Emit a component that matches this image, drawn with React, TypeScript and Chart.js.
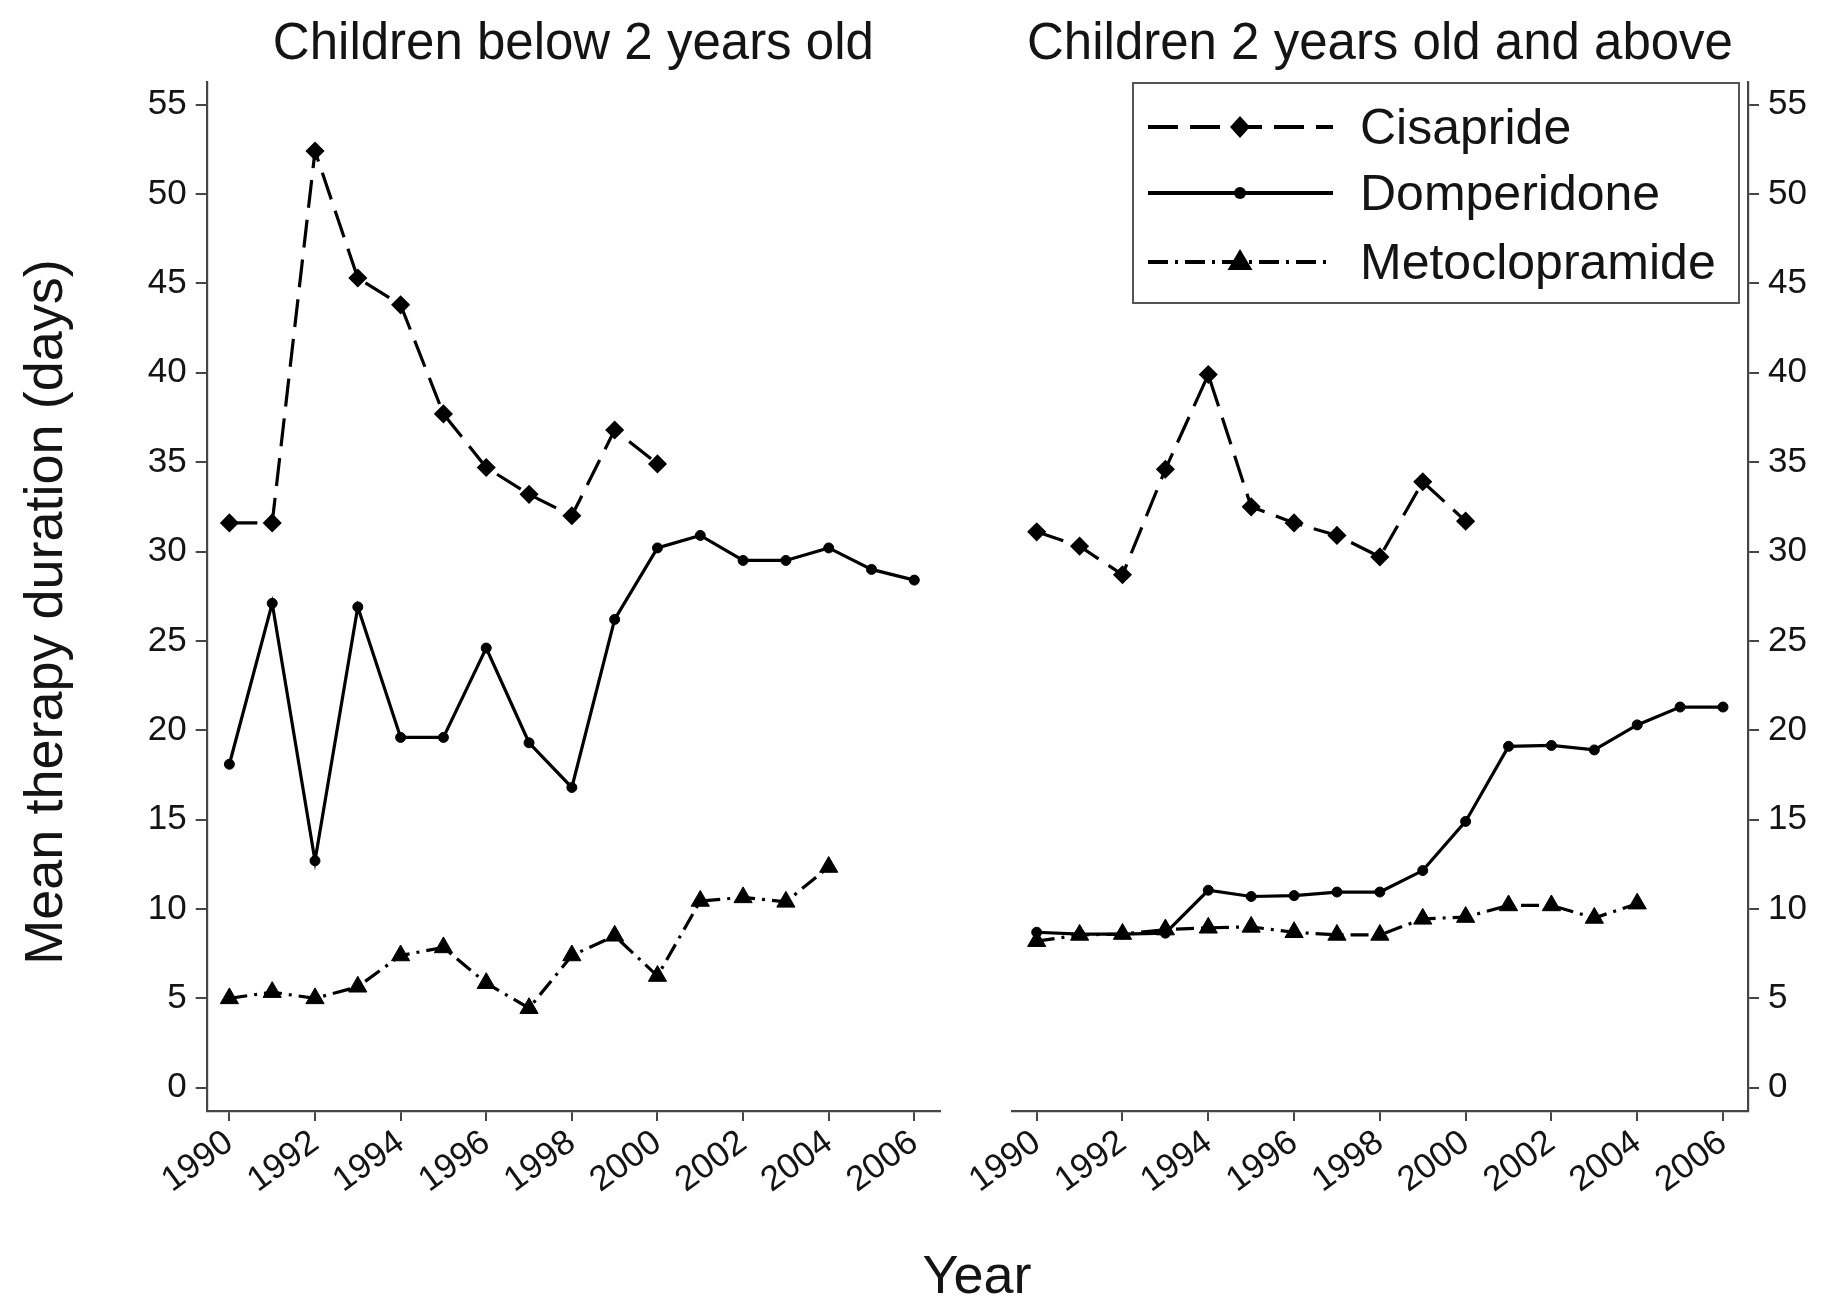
import React, { useEffect, useRef } from "react";
import { Chart, registerables } from "chart.js";

Chart.register(...registerables);

// ---------- data ----------
const cisaprideYears = [1990, 1991, 1992, 1993, 1994, 1995, 1996, 1997, 1998, 1999, 2000];
const domperidoneYears = [1990, 1991, 1992, 1993, 1994, 1995, 1996, 1997, 1998, 1999, 2000, 2001, 2002, 2003, 2004, 2005, 2006];
const metoclopramideYears = [1990, 1991, 1992, 1993, 1994, 1995, 1996, 1997, 1998, 1999, 2000, 2001, 2002, 2003, 2004];

// Children below 2 years old
const cisaprideBelow2 = [31.6, 31.6, 52.4, 45.3, 43.8, 37.7, 34.7, 33.2, 32.0, 36.8, 34.9];
const domperidoneBelow2 = [18.1, 27.1, 12.7, 26.9, 19.6, 19.6, 24.6, 19.3, 16.8, 26.2, 30.2, 30.9, 29.5, 29.5, 30.2, 29.0, 28.4];
const metoclopramideBelow2 = [5.0, 5.35, 5.0, 5.65, 7.4, 7.85, 5.85, 4.45, 7.4, 8.5, 6.25, 10.45, 10.65, 10.4, 12.35];

// Children 2 years old and above
const cisaprideAbove2 = [31.1, 30.3, 28.7, 34.6, 39.9, 32.5, 31.6, 30.9, 29.7, 33.9, 31.7];
const domperidoneAbove2 = [8.7, 8.6, 8.6, 8.65, 11.05, 10.7, 10.75, 10.95, 10.95, 12.15, 14.9, 19.1, 19.15, 18.9, 20.3, 21.3, 21.3];
const metoclopramideAbove2 = [8.2, 8.55, 8.6, 8.85, 8.95, 9.0, 8.7, 8.55, 8.55, 9.45, 9.55, 10.2, 10.2, 9.5, 10.3];

const xTickYears = [1990, 1992, 1994, 1996, 1998, 2000, 2002, 2004, 2006];
const yTickValues = [0, 5, 10, 15, 20, 25, 30, 35, 40, 45, 50, 55];
const panelTitles = ["Children below 2 years old", "Children 2 years old and above"];
const seriesNames = ["Cisapride", "Domperidone", "Metoclopramide"];
const xAxisTitle = "Year";
const yAxisTitle = "Mean therapy duration (days)";

// ---------- styles ----------
const FONT = '"Liberation Sans", Arial, Helvetica, sans-serif';
const TEXT = "#141414";
const AXIS = "#454545";
const LINE = "#000000";
const W = 1829;
const H = 1307;
const TICK_FONT = 35;

const toPoints = (xs: number[], ys: number[]) => ys.map((v, i) => ({ x: xs[i], y: v }));

function makeConfig(side: "left" | "right", title: string, cis: number[], dom: number[], met: number[]): any {
  const isLeft = side === "left";
  return {
    type: "line",
    data: {
      datasets: [
        {
          label: seriesNames[0],
          data: toPoints(cisaprideYears, cis),
          borderColor: LINE,
          backgroundColor: LINE,
          borderWidth: 3.2,
          borderDash: [28, 12],
          pointStyle: "rectRot",
          pointRadius: 8.5,
          pointBorderWidth: 1.5,
          pointBackgroundColor: LINE,
          pointBorderColor: LINE,
          tension: 0,
        },
        {
          label: seriesNames[1],
          data: toPoints(domperidoneYears, dom),
          borderColor: LINE,
          backgroundColor: LINE,
          borderWidth: 3.2,
          pointStyle: "circle",
          pointRadius: 5,
          pointBorderWidth: 1,
          pointBackgroundColor: LINE,
          pointBorderColor: LINE,
          tension: 0,
        },
        {
          label: seriesNames[2],
          data: toPoints(metoclopramideYears, met),
          borderColor: LINE,
          backgroundColor: LINE,
          borderWidth: 3.2,
          borderDash: [18, 7, 3, 7],
          pointStyle: "triangle",
          pointRadius: 10.5,
          pointBorderWidth: 1,
          pointBackgroundColor: LINE,
          pointBorderColor: LINE,
          tension: 0,
        },
      ],
    },
    options: {
      responsive: false,
      animation: false,
      devicePixelRatio: 1,
      events: [],
      layout: {
        padding: isLeft
          ? { left: 0, right: W - 940, top: 0, bottom: 0 }
          : { left: 1012, right: 0, top: 0, bottom: 0 },
      },
      plugins: {
        legend: { display: false },
        tooltip: { enabled: false },
        title: {
          display: true,
          text: title,
          fullSize: false,
          color: TEXT,
          font: { family: FONT, size: 51, weight: "normal", lineHeight: 1.2 },
          padding: { top: 14.4, bottom: 6.7 },
        },
      },
      scales: {
        x: {
          type: "linear",
          position: "bottom",
          min: isLeft ? 1989.47 : 1989.424,
          max: isLeft ? 2006.6 : 2006.583,
          afterBuildTicks: (s: any) => {
            s.ticks = xTickYears.map((v) => ({ value: v }));
          },
          afterFit: (s: any) => {
            s.height = H - 1111;
          },
          grid: { drawOnChartArea: false, drawTicks: true, tickLength: 10, color: AXIS, lineWidth: 2 },
          border: { display: true, color: AXIS, width: 2.2 },
          ticks: {
            autoSkip: false,
            maxRotation: 36,
            minRotation: 36,
            padding: 1,
            color: TEXT,
            font: { family: FONT, size: TICK_FONT },
            callback: (v: any) => String(v),
          },
        },
        y: {
          type: "linear",
          position: side,
          min: -1.3,
          max: 56.25,
          afterBuildTicks: (s: any) => {
            s.ticks = yTickValues.map((v) => ({ value: v }));
          },
          afterFit: (s: any) => {
            s.width = isLeft ? 206.7 : W - 1748;
          },
          grid: { drawOnChartArea: false, drawTicks: true, tickLength: 11, color: AXIS, lineWidth: 2 },
          border: { display: true, color: AXIS, width: 2.2 },
          ticks: {
            padding: 9,
            color: TEXT,
            font: { family: FONT, size: TICK_FONT },
            callback: (v: any) => String(v),
          },
        },
      },
    },
  };
}

function ChartCanvas({ config }: { config: any }) {
  const ref = useRef<HTMLCanvasElement | null>(null);
  useEffect(() => {
    if (!ref.current) return;
    const chart = new Chart(ref.current, config);
    return () => chart.destroy();
  }, [config]);
  return (
    <canvas
      ref={ref}
      width={W}
      height={H}
      style={{ position: "absolute", left: 0, top: 0, width: W, height: H }}
    />
  );
}

const legendSamples = [
  { dash: "30 12", marker: "diamond" },
  { dash: "", marker: "circle" },
  { dash: "20 7 3 7", marker: "triangle" },
];
const legendRowCenters = [42.7, 109, 177.7];

function LegendMarker({ kind }: { kind: string }) {
  const cx = 92;
  const cy = 16;
  if (kind === "diamond") {
    return <polygon points={`${cx - 10},${cy} ${cx},${cy - 11} ${cx + 10},${cy} ${cx},${cy + 11}`} fill={LINE} />;
  }
  if (kind === "circle") {
    return <circle cx={cx} cy={cy} r={6} fill={LINE} />;
  }
  return <polygon points={`${cx},${cy - 13} ${cx + 12.5},${cy + 8} ${cx - 12.5},${cy + 8}`} fill={LINE} />;
}

function Legend() {
  return (
    <div
      style={{
        position: "absolute",
        left: 1132,
        top: 82,
        width: 608,
        height: 222,
        boxSizing: "border-box",
        border: "2px solid #555",
        background: "#fff",
      }}
    >
      {seriesNames.map((name, i) => (
        <React.Fragment key={name}>
          <svg
            width={190}
            height={32}
            style={{ position: "absolute", left: 14, top: legendRowCenters[i] - 16 }}
          >
            <line
              x1={0}
              y1={16}
              x2={185}
              y2={16}
              stroke={LINE}
              strokeWidth={4}
              strokeDasharray={legendSamples[i].dash || undefined}
            />
            <LegendMarker kind={legendSamples[i].marker} />
          </svg>
          <div
            style={{
              position: "absolute",
              left: 226,
              top: legendRowCenters[i] - 25,
              height: 50,
              fontFamily: FONT,
              fontSize: 50,
              lineHeight: "50px",
              color: TEXT,
              whiteSpace: "nowrap",
            }}
          >
            {name}
          </div>
        </React.Fragment>
      ))}
    </div>
  );
}

const leftConfig = makeConfig("left", panelTitles[0], cisaprideBelow2, domperidoneBelow2, metoclopramideBelow2);
const rightConfig = makeConfig("right", panelTitles[1], cisaprideAbove2, domperidoneAbove2, metoclopramideAbove2);

export default function App() {
  return (
    <div
      style={{
        position: "absolute",
        left: 0,
        top: 0,
        width: W,
        height: H,
        background: "#fff",
        overflow: "hidden",
      }}
    >
      <ChartCanvas config={leftConfig} />
      <ChartCanvas config={rightConfig} />
      <Legend />
      <div
        style={{
          position: "absolute",
          left: 42.5 - 400,
          top: 612 - 27,
          width: 800,
          height: 54,
          lineHeight: "54px",
          fontFamily: FONT,
          fontSize: 54,
          color: TEXT,
          textAlign: "center",
          transform: "rotate(-90deg)",
          whiteSpace: "nowrap",
        }}
      >
        {yAxisTitle}
      </div>
      <div
        style={{
          position: "absolute",
          left: 977 - 150,
          top: 1274 - 27,
          width: 300,
          height: 54,
          lineHeight: "54px",
          fontFamily: FONT,
          fontSize: 54,
          color: TEXT,
          textAlign: "center",
        }}
      >
        {xAxisTitle}
      </div>
    </div>
  );
}
